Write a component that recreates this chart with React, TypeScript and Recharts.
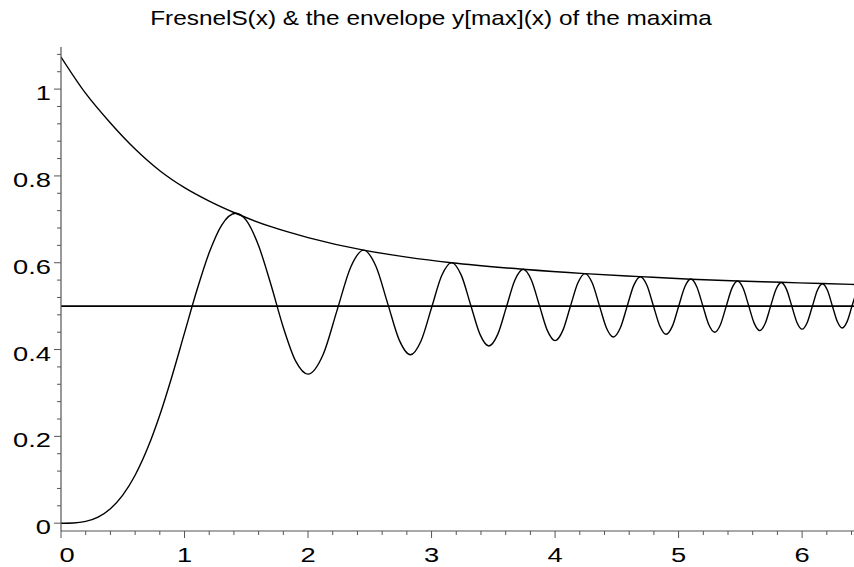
import React from 'react';
import { LineChart, Line, XAxis, YAxis, ReferenceLine } from 'recharts';

const chartTitle = 'FresnelS(x) & the envelope y[max](x) of the maxima';

// tick labels
const xTickLabels = [0, 1, 2, 3, 4, 5, 6];
const yTickLabels = [0, 0.2, 0.4, 0.6, 0.8, 1];

// FresnelS(x) (denser where the curve bends)
const fresnelX = [
  0, 0.1, 0.2, 0.3, 0.4, 0.5, 0.6, 0.7071, 0.8, 0.9, 1.0, 1.1, 1.2, 1.3, 1.4142,
  1.5, 1.6, 1.7, 1.8, 1.9, 2.0, 2.1213, 2.2361, 2.3452, 2.4495, 2.5495, 2.6458,
  2.7386, 2.8284, 2.9155, 3.0, 3.0822, 3.1623, 3.2404, 3.3166, 3.3912, 3.4641,
  3.5355, 3.6056, 3.6742, 3.7417, 3.8079, 3.873, 3.937, 4.0, 4.062, 4.1231,
  4.1833, 4.2426, 4.3012, 4.3589, 4.4159, 4.4721, 4.5277, 4.5826, 4.6368, 4.6904,
  4.7434, 4.7958, 4.8477, 4.899, 4.9497, 5.0, 5.0498, 5.099, 5.1478, 5.1962,
  5.244, 5.2915, 5.3385, 5.3852, 5.4314, 5.4772, 5.5227, 5.5678, 5.6125, 5.6569,
  5.7009, 5.7446, 5.7879, 5.831, 5.8737, 5.9161, 5.9582, 6.0, 6.0415, 6.0828,
  6.1237, 6.1644, 6.2048, 6.245, 6.2849, 6.3246, 6.364, 6.4031, 6.442,
];
const fresnelY = [
  0, 0.0005, 0.0042, 0.0141, 0.0334, 0.0647, 0.1105, 0.1771, 0.2493, 0.3398, 0.4383,
  0.5365, 0.6234, 0.6863, 0.7139, 0.6975, 0.6389, 0.5492, 0.4509, 0.3733, 0.3434,
  0.388, 0.4914, 0.5898, 0.629, 0.5918, 0.5053, 0.4217, 0.388, 0.4203, 0.4963,
  0.5704, 0.6003, 0.5714, 0.5028, 0.4356, 0.4083, 0.4349, 0.4978, 0.5597, 0.5849,
  0.5603, 0.5017, 0.4441, 0.4205, 0.4436, 0.4986, 0.5528, 0.575, 0.5532, 0.5012,
  0.4498, 0.4289, 0.4495, 0.4989, 0.5478, 0.5678, 0.5482, 0.5009, 0.4542, 0.4351,
  0.4539, 0.4992, 0.5441, 0.5624, 0.5442, 0.5007, 0.4576, 0.4399, 0.4573, 0.4994,
  0.541, 0.5581, 0.5412, 0.5006, 0.4603, 0.4437, 0.4601, 0.4995, 0.5385, 0.5546,
  0.5386, 0.5005, 0.4625, 0.447, 0.4624, 0.4996, 0.5365, 0.5516, 0.5366, 0.5004,
  0.4645, 0.4497, 0.4643, 0.4996, 0.535,
];

// envelope y[max](x)
const envelopeX = [
  0, 0.2, 0.4, 0.6, 0.8, 1.0, 1.2, 1.414, 1.7, 2.0, 2.45, 2.8, 3.16, 3.74,
  4.24, 4.69, 5.1, 5.48, 5.83, 6.16, 6.42,
];
const envelopeY = [
  1.074, 0.99, 0.922, 0.862, 0.812, 0.773, 0.742, 0.714, 0.683, 0.658, 0.629,
  0.613, 0.6, 0.585, 0.575, 0.568, 0.562, 0.558, 0.555, 0.552, 0.55,
];

const halfLevel = 0.5;

const xDomain = [0, 6.42];
const yDomain = [-0.018, 1.097];

const xMinor = Array.from({ length: 33 }, (_, i) => +(i * 0.2).toFixed(2));
const yMinor = Array.from({ length: 28 }, (_, i) => +(i * 0.04).toFixed(2));

const fresnelData = fresnelX.map((x, i) => ({ x, y: fresnelY[i] }));
const envelopeData = envelopeX.map((x, i) => ({ x, y: envelopeY[i] }));

const font = '"Liberation Sans", Arial, Helvetica, sans-serif';
const axisColor = '#555';

const isMajor = (v: number, list: number[]) => list.some(t => Math.abs(t - v) < 1e-6);

const XTick = (props: any) => {
  const { x, y, payload } = props;
  const v = payload.value;
  const major = isMajor(v, xTickLabels);
  return (
    <g>
      <line x1={x} x2={x} y1={y} y2={y + (major ? 7 : 4)} stroke={axisColor} strokeWidth={1} />
      {major && (
        <text
          transform={`translate(${x + (v === 0 ? 6 : 0)},${y + 31}) scale(1.3,1)`}
          textAnchor="middle"
          fontSize={21}
          fontFamily={font}
          fill="#000"
        >
          {v}
        </text>
      )}
    </g>
  );
};

const YTick = (props: any) => {
  const { x, y, payload } = props;
  const v = payload.value;
  const major = isMajor(v, yTickLabels);
  return (
    <g>
      <line x1={x - (major ? 7 : 4)} x2={x} y1={y} y2={y} stroke={axisColor} strokeWidth={1} />
      {major && (
        <text
          transform={`translate(${x - 10},${y + 11}) scale(1.3,1)`}
          textAnchor="end"
          fontSize={21}
          fontFamily={font}
          fill="#000"
        >
          {v}
        </text>
      )}
    </g>
  );
};

export default function App() {
  return (
    <div style={{ position: 'absolute', left: 0, top: 0, width: 854, height: 567, background: '#fff' }}>
      <LineChart width={854} height={567} margin={{ top: 47, right: 0, bottom: 0, left: 0 }}>
        <XAxis
          dataKey="x"
          type="number"
          domain={xDomain}
          allowDataOverflow
          ticks={xMinor}
          interval={0}
          height={36}
          tickSize={0}
          tickMargin={0}
          tickLine={false}
          tick={<XTick />}
          axisLine={{ stroke: axisColor, strokeWidth: 1.2 }}
        />
        <XAxis
          xAxisId="top"
          orientation="top"
          type="number"
          domain={xDomain}
          allowDataOverflow
          height={0}
          tick={false}
          tickLine={false}
          axisLine={{ stroke: '#222', strokeWidth: 1.5 }}
        />
        <YAxis
          type="number"
          domain={yDomain}
          allowDataOverflow
          ticks={yMinor}
          interval={0}
          width={61}
          tickSize={0}
          tickMargin={0}
          tickLine={false}
          tick={<YTick />}
          axisLine={{ stroke: axisColor, strokeWidth: 1.2 }}
        />
        <ReferenceLine y={halfLevel} stroke="#000" strokeWidth={1.8} />
        <Line
          data={envelopeData}
          dataKey="y"
          type="monotone"
          stroke="#000"
          strokeWidth={1.4}
          dot={false}
          isAnimationActive={false}
        />
        <Line
          data={fresnelData}
          dataKey="y"
          type="monotone"
          stroke="#000"
          strokeWidth={1.4}
          dot={false}
          isAnimationActive={false}
        />
      </LineChart>
      <svg width={854} height={40} style={{ position: 'absolute', left: 0, top: 0, pointerEvents: 'none' }}>
        <text
          transform="translate(431,25) scale(1.16,1)"
          textAnchor="middle"
          fontSize={21}
          fontFamily={font}
          fill="#000"
        >
          {chartTitle}
        </text>
      </svg>
    </div>
  );
}
